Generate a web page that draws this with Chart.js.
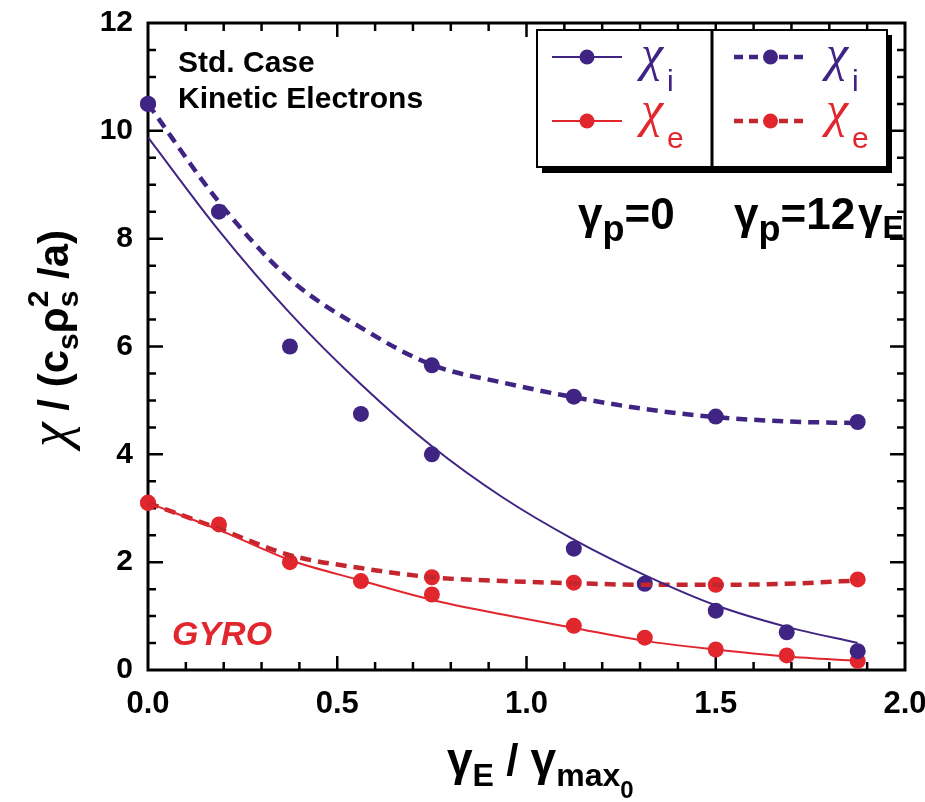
<!DOCTYPE html>
<html>
<head>
<meta charset="utf-8">
<script src="https://cdn.jsdelivr.net/npm/chart.js@4.4.1/dist/chart.umd.min.js"></script>
<style>
  html, body { margin: 0; padding: 0; background: #fff; }
  #wrap { width: 925px; height: 802px; }
</style>
</head>
<body>
<div id="wrap"><canvas id="chart" width="925" height="802"></canvas></div>
<script>
// simulation points, gamma_p = 0
const xPts = [0, 0.1875, 0.375, 0.5625, 0.75, 1.125, 1.3125, 1.5, 1.6875, 1.875];
const chiI_gp0 = [10.5, 8.5, 6.0, 4.75, 4.0, 2.25, 1.6, 1.1, 0.7, 0.35];
const chiE_gp0 = [3.1, 2.7, 2.0, 1.65, 1.4, 0.82, 0.6, 0.38, 0.27, 0.17];

// simulation points, gamma_p = 12 gamma_E
const xPtsShear = [0, 0.75, 1.125, 1.5, 1.875];
const chiI_gp12 = [10.5, 5.65, 5.07, 4.7, 4.6];
const chiE_gp12 = [3.1, 1.72, 1.62, 1.58, 1.68];

// fitted curves
const xFit = [0, 0.1875, 0.375, 0.5625, 0.75, 0.9375, 1.125, 1.3125, 1.5, 1.6875, 1.875];
const fitI_gp0 = [9.88, 8.15, 6.62, 5.3, 4.15, 3.2, 2.42, 1.76, 1.2, 0.8, 0.5];
const fitE_gp0 = [3.1, 2.6, 2.04, 1.66, 1.3, 1.03, 0.78, 0.54, 0.38, 0.25, 0.17];
const fitI_gp12 = [10.5, 8.68, 7.25, 6.35, 5.66, 5.33, 5.06, 4.84, 4.69, 4.61, 4.58];
const fitE_gp12 = [3.1, 2.62, 2.13, 1.89, 1.72, 1.65, 1.61, 1.58, 1.58, 1.6, 1.66];

const xTicks = [0, 0.5, 1.0, 1.5, 2.0];
const yTicks = [0, 2, 4, 6, 8, 10, 12];

const PURPLE = '#402483';
const RED = '#e2262e';
const RED_DASH = '#c4262e';
const SANS = '"Liberation Sans", Arial, sans-serif';
const NARROW = '"Liberation Sans Narrow", "Liberation Sans", sans-serif';
const SERIF = '"Liberation Serif", "DejaVu Serif", serif';

const toXY = (xs, ys) => xs.map((x, i) => ({ x, y: ys[i] }));

function fitSet(ys, color, dashed) {
    return {
        data: toXY(xFit, ys),
        showLine: true,
        borderColor: color,
        borderWidth: dashed ? 4.5 : 2,
        borderDash: dashed ? [11, 7] : [],
        pointRadius: 0,
        cubicInterpolationMode: 'monotone',
        fill: false,
        clip: false
    };
}

function pointSet(xs, ys, color) {
    return {
        data: toXY(xs, ys),
        showLine: false,
        pointRadius: 8,
        pointBackgroundColor: color,
        pointBorderWidth: 0,
        clip: false
    };
}

// draw a row of text pieces (sub/superscripts), optionally rotated
function drawRuns(ctx, x, y, runs, rot) {
    ctx.save();
    ctx.translate(x, y);
    if (rot) ctx.rotate(rot);
    ctx.textBaseline = 'alphabetic';
    ctx.textAlign = 'left';
    let cx = 0;
    runs.forEach(r => {
        ctx.font = r.font;
        ctx.fillStyle = r.color || '#000';
        ctx.fillText(r.t, cx + (r.dx || 0), r.dy || 0);
        if (!r.stack) cx += ctx.measureText(r.t).width + (r.dx || 0);
    });
    ctx.restore();
}

const framePlugin = {
    id: 'frame',
    beforeDatasetsDraw(chart) {
        const { ctx, chartArea: a, scales: { x, y } } = chart;
        ctx.save();
        ctx.strokeStyle = '#000';
        ctx.lineWidth = 3;
        ctx.strokeRect(a.left, a.top, a.right - a.left, a.bottom - a.top);
        ctx.lineWidth = 2.5;
        ctx.beginPath();
        for (let i = 1; i < 20; i++) {
            const px = x.getPixelForValue(i / 10);
            const len = i % 5 === 0 ? 14 : 8;
            ctx.moveTo(px, a.bottom); ctx.lineTo(px, a.bottom - len);
            ctx.moveTo(px, a.top); ctx.lineTo(px, a.top + len);
        }
        for (let i = 1; i < 24; i++) {
            const py = y.getPixelForValue(i / 2);
            const len = i % 4 === 0 ? 15 : 8;
            ctx.moveTo(a.left, py); ctx.lineTo(a.left + len, py);
            ctx.moveTo(a.right, py); ctx.lineTo(a.right - len, py);
        }
        ctx.stroke();
        ctx.restore();
    },
    afterDraw(chart) {
        const ctx = chart.ctx;
        // annotations
        drawRuns(ctx, 178, 72, [{ t: 'Std. Case', font: `bold 30px ${SANS}` }]);
        drawRuns(ctx, 178, 108, [{ t: 'Kinetic Electrons', font: `bold 30px ${SANS}` }]);
        drawRuns(ctx, 172, 645, [{ t: 'GYRO', font: `italic bold 34px ${NARROW}`, color: RED }]);
        drawRuns(ctx, 578, 229, [
            { t: 'γ', font: `bold 44px ${NARROW}` },
            { t: 'p', font: `bold 36px ${NARROW}`, dy: 12 },
            { t: '=0', font: `bold 44px ${NARROW}` }
        ]);
        drawRuns(ctx, 734, 229, [
            { t: 'γ', font: `bold 44px ${NARROW}` },
            { t: 'p', font: `bold 36px ${NARROW}`, dy: 12 },
            { t: '=12', font: `bold 44px ${NARROW}` },
            { t: 'γ', font: `bold 44px ${NARROW}`, dx: 3 },
            { t: 'E', font: `bold 32px ${NARROW}`, dy: 9 }
        ]);

        // legend box with shadow
        ctx.save();
        ctx.fillStyle = '#000';
        ctx.fillRect(542, 35, 350, 138);
        ctx.fillStyle = '#fff';
        ctx.fillRect(537, 30, 350, 137);
        ctx.strokeStyle = '#000';
        ctx.lineWidth = 2;
        ctx.strokeRect(537, 30, 350, 137);
        ctx.lineWidth = 3;
        ctx.beginPath(); ctx.moveTo(712, 30); ctx.lineTo(712, 167); ctx.stroke();

        const rows = [
            { y: 57, color: PURPLE, dash: [], lw: 2, col: 0, sub: 'i' },
            { y: 121, color: RED, dash: [], lw: 2, col: 0, sub: 'e' },
            { y: 57, color: PURPLE, dash: [9, 6], lw: 4.5, col: 1, sub: 'i' },
            { y: 121, color: RED_DASH, dash: [9, 6], lw: 4.5, col: 1, sub: 'e' }
        ];
        rows.forEach(r => {
            const x0 = r.col ? 734 : 552;
            const x1 = r.col ? 807 : 622;
            const mx = (x0 + x1) / 2;
            ctx.strokeStyle = r.color;
            ctx.lineWidth = r.lw;
            ctx.setLineDash(r.dash);
            ctx.beginPath(); ctx.moveTo(x0, r.y); ctx.lineTo(x1, r.y); ctx.stroke();
            ctx.setLineDash([]);
            ctx.fillStyle = r.sub === 'i' ? PURPLE : RED;
            ctx.beginPath(); ctx.arc(mx, r.y, 7.5, 0, Math.PI * 2); ctx.fill();
            const tx = r.col ? 826 : 641;
            const base = r.sub === 'i' ? 70 : 126;
            const txtColor = r.sub === 'i' ? PURPLE : RED;
            drawRuns(ctx, tx, base, [
                { t: 'χ', font: `italic 50px ${SERIF}`, color: txtColor },
                { t: r.sub, font: `30px ${SANS}`, color: txtColor, dy: r.sub === 'i' ? 21 : 22, dx: 4 }
            ]);
        });
        ctx.restore();

        // axis titles
        drawRuns(ctx, 447, 775, [
            { t: 'γ', font: `bold 46px ${SANS}` },
            { t: 'E', font: `bold 32px ${SANS}`, dy: 11 },
            { t: ' / ', font: `bold 44px ${SANS}` },
            { t: 'γ', font: `bold 46px ${SANS}` },
            { t: 'max', font: `bold 32px ${NARROW}`, dy: 11 },
            { t: '0', font: `bold 24px ${NARROW}`, dy: 23 }
        ]);
        drawRuns(ctx, 68, 447, [
            { t: 'χ', font: `italic 56px ${SERIF}` },
            { t: ' / (', font: `bold 42px ${SANS}` },
            { t: 'c', font: `bold 42px ${SANS}` },
            { t: 's', font: `bold 30px ${SANS}`, dy: 10 },
            { t: 'ρ', font: `bold 42px ${SANS}` },
            { t: '2', font: `bold 30px ${SANS}`, dy: -20, stack: true },
            { t: 's', font: `bold 30px ${SANS}`, dy: 10 },
            { t: ' /a)', font: `bold 42px ${SANS}` }
        ], -Math.PI / 2);
    }
};

new Chart(document.getElementById('chart'), {
    type: 'scatter',
    data: {
        datasets: [
            fitSet(fitI_gp0, PURPLE, false),
            fitSet(fitE_gp0, RED, false),
            fitSet(fitI_gp12, PURPLE, true),
            fitSet(fitE_gp12, RED_DASH, true),
            pointSet(xPts, chiI_gp0, PURPLE),
            pointSet(xPts, chiE_gp0, RED),
            pointSet(xPtsShear, chiI_gp12, PURPLE),
            pointSet(xPtsShear, chiE_gp12, RED)
        ]
    },
    options: {
        responsive: false,
        animation: false,
        layout: { padding: { left: 0, right: 20, top: 23, bottom: 0 } },
        plugins: { legend: { display: false }, tooltip: { enabled: false } },
        scales: {
            x: {
                type: 'linear',
                min: 0, max: 2,
                afterBuildTicks: s => { s.ticks = xTicks.map(v => ({ value: v })); },
                afterFit: s => { s.height = 132; s.paddingLeft = 0; s.paddingRight = 0; },
                grid: { display: false, drawTicks: false },
                border: { display: false },
                ticks: {
                    padding: 16,
                    color: '#000',
                    font: { family: SANS, size: 31, weight: 'bold' },
                    callback: v => v.toFixed(1),
                    maxRotation: 0
                }
            },
            y: {
                type: 'linear',
                min: 0, max: 12,
                afterBuildTicks: s => { s.ticks = yTicks.map(v => ({ value: v })); },
                afterFit: s => { s.width = 148; s.paddingTop = 0; s.paddingBottom = 0; },
                grid: { display: false, drawTicks: false },
                border: { display: false },
                ticks: {
                    padding: 15,
                    color: '#000',
                    font: { family: SANS, size: 30, weight: 'bold' },
                    callback: v => String(v)
                }
            }
        }
    },
    plugins: [framePlugin]
});
</script>
</body>
</html>
